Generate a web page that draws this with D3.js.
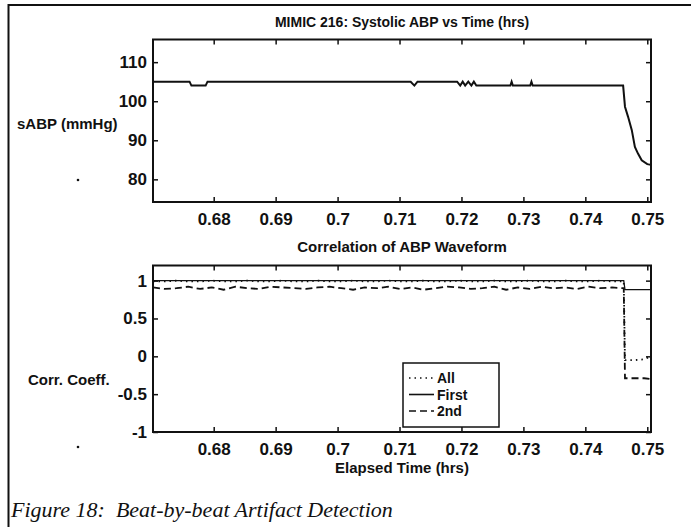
<!DOCTYPE html>
<html>
<head>
<meta charset="utf-8">
<script src="https://cdn.jsdelivr.net/npm/d3@7"></script>
<style>
  body { margin: 0; background: #fff; }
  svg text { font-family: "Liberation Sans", Arial, sans-serif; fill: #111; }
</style>
</head>
<body>
<svg id="fig" width="691" height="527"></svg>
<script>
// ---- data ----
var xTicks = [0.68, 0.69, 0.70, 0.71, 0.72, 0.73, 0.74, 0.75];
var xTickLabels = ["0.68", "0.69", "0.7", "0.71", "0.72", "0.73", "0.74", "0.75"];
var abpTicks = [80, 90, 100, 110];
var corrTicks = [-1, -0.5, 0, 0.5, 1];
var corrTickLabels = ["-1", "-0.5", "0", "0.5", "1"];

// systolic ABP (mmHg) against elapsed time (hrs)
var abpTime = [0.6702, 0.6761, 0.6764, 0.6787, 0.6790, 0.7118, 0.7124, 0.7129, 0.7193, 0.7198, 0.7202, 0.7206,
               0.7211, 0.7216, 0.7220, 0.7224, 0.7279, 0.7281, 0.7283, 0.7311, 0.7313, 0.7315, 0.7461, 0.7464,
               0.7469, 0.7475, 0.7480, 0.7485, 0.7491, 0.7500, 0.7506];
var abpValue = [105, 105, 104, 104, 105, 105, 104, 105, 105, 104, 105, 104,
                105, 104, 105, 104, 104, 105, 104, 104, 105, 104, 104, 98.6,
                96.0, 92.6, 88.3, 86.6, 84.9, 83.9, 83.7];

// beat correlation series
var corrTime = [0.6702, 0.6721, 0.6740, 0.6759, 0.6778, 0.6797, 0.6816, 0.6835, 0.6854, 0.6873, 0.6892,
                0.6911, 0.6930, 0.6949, 0.6968, 0.6987, 0.7006, 0.7025, 0.7044, 0.7063, 0.7082, 0.7101,
                0.7120, 0.7139, 0.7158, 0.7177, 0.7196, 0.7215, 0.7234, 0.7253, 0.7272, 0.7291, 0.7310,
                0.7329, 0.7348, 0.7367, 0.7386, 0.7405, 0.7424, 0.7443, 0.7462, 0.7464, 0.7480, 0.7495, 0.7506];
var corrAll = [0.99, 0.99, 1.0, 0.99, 0.99, 1.0, 0.99, 0.99, 1.0, 0.99, 0.99,
               1.0, 0.99, 0.99, 1.0, 0.99, 0.99, 1.0, 0.99, 0.99, 1.0, 0.99,
               0.99, 1.0, 0.99, 0.99, 1.0, 0.99, 0.99, 1.0, 0.99, 0.99, 1.0,
               0.99, 0.99, 1.0, 0.99, 0.99, 1.0, 0.99, 0.99, -0.05, -0.05, -0.04, 0.0];
var corrFirst = [1.0, 1.0, 1.0, 1.0, 1.0, 1.0, 1.0, 1.0, 1.0, 1.0, 1.0,
                 1.0, 1.0, 1.0, 1.0, 1.0, 1.0, 1.0, 1.0, 1.0, 1.0, 1.0,
                 1.0, 1.0, 1.0, 1.0, 1.0, 1.0, 1.0, 1.0, 1.0, 1.0, 1.0,
                 1.0, 1.0, 1.0, 1.0, 1.0, 1.0, 1.0, 1.0, 0.88, 0.88, 0.88, 0.88];
var corr2nd = [0.91, 0.89, 0.90, 0.92, 0.89, 0.91, 0.88, 0.92, 0.90, 0.89, 0.92,
               0.91, 0.90, 0.89, 0.91, 0.92, 0.90, 0.88, 0.91, 0.90, 0.92, 0.89,
               0.91, 0.88, 0.90, 0.92, 0.91, 0.89, 0.90, 0.92, 0.88, 0.91, 0.89,
               0.92, 0.90, 0.91, 0.89, 0.92, 0.90, 0.91, 0.90, -0.29, -0.29, -0.29, -0.30];

var seriesNames = ["All", "First", "2nd"];
var seriesDash = ["1.5,4", null, "7,4"];

// ---- layout ----
var svg = d3.select("#fig");
var left = 153, right = 651;
var top1 = 39.5, bot1 = 202;
var top2 = 265.5, bot2 = 432;

var x1 = d3.scaleLinear().domain([0.6702, 0.7506]).range([left, right]);
var yAbp = d3.scaleLinear().domain([74.2, 115.8]).range([bot1, top1]);
var yCorr = d3.scaleLinear().domain([-1, 1.2]).range([bot2, top2]);

// outer page frame (left and top rules only)
svg.append("path")
    .attr("d", "M8.5,527 V5 H691")
    .style("fill", "none").style("stroke", "#111").style("stroke-width", 2);

function drawAxes(yScale, yTickVals, yLabels, top, bot) {
    var g = svg.append("g");
    var tickLen = 5;

    // bottom + left axes with labels
    g.append("g")
        .attr("transform", "translate(0," + bot + ")")
        .call(d3.axisBottom(x1).tickValues(xTicks).tickSizeInner(-tickLen).tickSizeOuter(0).tickPadding(11)
            .tickFormat(function (d, i) { return xTickLabels[i]; }));
    g.append("g")
        .attr("transform", "translate(" + left + ",0)")
        .call(d3.axisLeft(yScale).tickValues(yTickVals).tickSizeInner(-tickLen).tickSizeOuter(0).tickPadding(6)
            .tickFormat(function (d, i) { return yLabels[i]; }));
    // top + right ticks without labels
    g.append("g")
        .attr("transform", "translate(0," + top + ")")
        .call(d3.axisTop(x1).tickValues(xTicks).tickSizeInner(-tickLen).tickSizeOuter(0).tickFormat(""));
    g.append("g")
        .attr("transform", "translate(" + right + ",0)")
        .call(d3.axisRight(yScale).tickValues(yTickVals).tickSizeInner(-tickLen).tickSizeOuter(0).tickFormat(""));

    g.selectAll(".domain").remove();
    g.selectAll(".tick line").style("stroke", "#111").style("stroke-width", 1.5);
    g.selectAll(".tick text")
        .style("font-size", "17px").style("font-weight", "bold").style("fill", "#111");

    g.append("rect")
        .attr("x", left).attr("y", top)
        .attr("width", right - left).attr("height", bot - top)
        .style("fill", "none").style("stroke", "#111").style("stroke-width", 2);
}

drawAxes(yAbp, abpTicks, abpTicks.map(String), top1, bot1);
drawAxes(yCorr, corrTicks, corrTickLabels, top2, bot2);

// ---- top panel line ----
var abpLine = d3.line()
    .x(function (d, i) { return x1(abpTime[i]); })
    .y(function (d) { return yAbp(d); });
svg.append("path")
    .datum(abpValue)
    .attr("d", abpLine)
    .style("fill", "none").style("stroke", "#111").style("stroke-width", 2);

// ---- bottom panel lines ----
var corrLine = d3.line()
    .x(function (d, i) { return x1(corrTime[i]); })
    .y(function (d) { return yCorr(d); });
[corrAll, corrFirst, corr2nd].forEach(function (s, k) {
    svg.append("path")
        .datum(s)
        .attr("d", corrLine)
        .style("fill", "none").style("stroke", "#111")
        .style("stroke-width", k === 1 ? 1.3 : 1.8)
        .style("stroke-dasharray", seriesDash[k]);
});

// ---- legend ----
var lg = svg.append("g").attr("transform", "translate(403,363)");
lg.append("rect").attr("width", 96).attr("height", 64)
    .style("fill", "#fff").style("stroke", "#111").style("stroke-width", 1.5);
lg.selectAll(".entry").data(seriesNames).enter().append("g")
    .classed("entry", true)
    .each(function (d, i) {
        var yy = 15 + i * 16.5;
        d3.select(this).append("line")
            .attr("x1", 6).attr("x2", 31).attr("y1", yy).attr("y2", yy)
            .style("stroke", "#111").style("stroke-width", 1.6)
            .style("stroke-dasharray", seriesDash[i]);
        d3.select(this).append("text")
            .attr("x", 34).attr("y", yy).attr("dy", ".36em")
            .text(d)
            .style("font-size", "14px").style("font-weight", "bold");
    });

// ---- titles and labels ----
svg.append("text").attr("x", (left + right) / 2).attr("y", 27)
    .attr("text-anchor", "middle").style("font-size", "14px").style("font-weight", "bold")
    .text("MIMIC 216: Systolic ABP vs Time (hrs)");
svg.append("text").attr("x", (left + right) / 2).attr("y", 252)
    .attr("text-anchor", "middle").style("font-size", "15px").style("font-weight", "bold")
    .text("Correlation of ABP Waveform");
svg.append("text").attr("x", (left + right) / 2).attr("y", 473)
    .attr("text-anchor", "middle").style("font-size", "15px").style("font-weight", "bold")
    .text("Elapsed Time (hrs)");
svg.append("text").attr("x", 17).attr("y", 129)
    .style("font-size", "15px").style("font-weight", "bold")
    .text("sABP (mmHg)");
svg.append("text").attr("x", 28).attr("y", 385)
    .style("font-size", "15px").style("font-weight", "bold")
    .text("Corr. Coeff.");

// stray dots next to the axis labels
svg.selectAll(".dot").data([180, 447]).enter().append("circle")
    .classed("dot", true)
    .attr("cx", 78).attr("cy", function (d) { return d; }).attr("r", 1.3)
    .style("fill", "#111");

// figure caption
svg.append("text").attr("x", 11).attr("y", 517)
    .attr("xml:space", "preserve")
    .style("font-family", "'Liberation Serif', 'Times New Roman', serif")
    .style("font-style", "italic").style("font-size", "22px")
    .style("white-space", "pre")
    .text("Figure 18:  Beat-by-beat Artifact Detection");
</script>
</body>
</html>
